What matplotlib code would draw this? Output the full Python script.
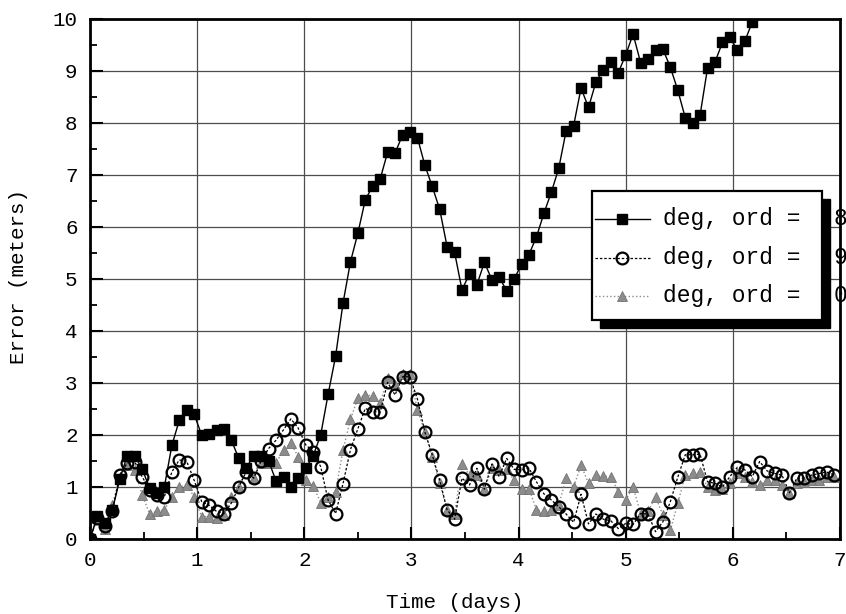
import matplotlib
matplotlib.use("Agg")
import matplotlib.pyplot as plt
from matplotlib.patches import Rectangle
from matplotlib.lines import Line2D

# ---------------- data ----------------
time_days = [0.0, 0.069, 0.139, 0.208, 0.278, 0.347, 0.417, 0.486, 0.556, 0.625,
             0.694, 0.764, 0.833, 0.903, 0.972, 1.042, 1.111, 1.181, 1.25, 1.319,
             1.389, 1.458, 1.528, 1.597, 1.667, 1.736, 1.806, 1.875, 1.944, 2.014,
             2.083, 2.153, 2.222, 2.292, 2.361, 2.431, 2.5, 2.569, 2.639, 2.708,
             2.778, 2.847, 2.917, 2.986, 3.056, 3.125, 3.194, 3.264, 3.333, 3.403,
             3.472, 3.542, 3.611, 3.681, 3.75, 3.819, 3.889, 3.958, 4.028, 4.097,
             4.167, 4.236, 4.306, 4.375, 4.444, 4.514, 4.583, 4.653, 4.722, 4.792,
             4.861, 4.931, 5.0, 5.069, 5.139, 5.208, 5.278, 5.347, 5.417, 5.486,
             5.556, 5.625, 5.694, 5.764, 5.833, 5.903, 5.972, 6.042, 6.111, 6.181,
             6.25, 6.319, 6.389, 6.458, 6.528, 6.597, 6.667, 6.736, 6.806, 6.875,
             6.944]

err_ord8 = [0.0, 0.45, 0.3, 0.55, 1.15, 1.6, 1.6, 1.35, 0.98, 0.88,
            1.0, 1.8, 2.28, 2.48, 2.4, 2.0, 2.02, 2.1, 2.12, 1.9,
            1.55, 1.37, 1.6, 1.6, 1.5, 1.12, 1.2, 1.0, 1.17, 1.36,
            1.6, 2.0, 2.78, 3.51, 4.53, 5.33, 5.88, 6.52, 6.79, 6.92,
            7.44, 7.42, 7.77, 7.83, 7.72, 7.19, 6.78, 6.34, 5.62, 5.51,
            4.79, 5.10, 4.89, 5.32, 4.99, 5.04, 4.77, 5.0, 5.28, 5.47,
            5.81, 6.26, 6.67, 7.13, 7.85, 7.95, 8.67, 8.30, 8.79, 9.02,
            9.17, 8.97, 9.31, 9.71, 9.16, 9.24, 9.40, 9.42, 9.07, 8.63,
            8.1, 8.0, 8.15, 9.06, 9.17, 9.55, 9.65, 9.4, 9.57, 9.94]

err_ord9 = [0.0, 0.4, 0.25, 0.53, 1.23, 1.46, 1.49, 1.2, 0.95, 0.85,
            0.81, 1.29, 1.52, 1.49, 1.13, 0.72, 0.65, 0.53, 0.49, 0.69,
            1.0, 1.29, 1.17, 1.5, 1.74, 1.9, 2.1, 2.31, 2.13, 1.81,
            1.68, 1.39, 0.75, 0.49, 1.06, 1.72, 2.12, 2.51, 2.45, 2.44,
            3.01, 2.77, 3.12, 3.12, 2.69, 2.06, 1.62, 1.13, 0.56, 0.38,
            1.17, 1.04, 1.36, 0.96, 1.44, 1.2, 1.55, 1.34, 1.33, 1.36,
            1.1, 0.87, 0.75, 0.62, 0.48, 0.32, 0.86, 0.29, 0.48, 0.38,
            0.35, 0.2, 0.3, 0.28, 0.49, 0.48, 0.14, 0.33, 0.72, 1.19,
            1.62, 1.62, 1.63, 1.1, 1.07, 1.0, 1.2, 1.38, 1.33, 1.2,
            1.49, 1.31, 1.26, 1.23, 0.89, 1.17, 1.17, 1.23, 1.26, 1.29,
            1.23]

err_ord0 = [0.0, 0.4, 0.2, 0.65, 1.2, 1.42, 1.33, 0.85, 0.49, 0.53,
            0.56, 0.81, 1.0, 1.04, 0.81, 0.43, 0.43, 0.4, 0.46, 0.81,
            1.0, 1.36, 1.17, 1.46, 1.46, 1.46, 1.71, 1.84, 1.58, 1.13,
            1.02, 0.7, 0.8, 0.91, 1.71, 2.3, 2.71, 2.77, 2.75, 2.61,
            3.09, 2.96, 3.17, 3.17, 2.48, 2.06, 1.58, 1.07, 0.56, 0.48,
            1.44, 1.23, 1.23, 0.96, 1.36, 1.33, 1.34, 1.13, 0.97, 0.97,
            0.56, 0.53, 0.55, 0.65, 1.17, 1.0, 1.42, 1.07, 1.23, 1.21,
            1.2, 0.91, 0.75, 1.0, 0.49, 0.53, 0.81, 0.46, 0.17, 0.69,
            1.23, 1.26, 1.29, 1.0, 0.94, 0.97, 1.07, 1.26, 1.2, 1.1,
            1.04, 1.13, 1.13, 1.04, 0.88, 1.07, 1.1, 1.13, 1.13, 1.2,
            1.2]

legend_labels = ["deg, ord =", "deg, ord =", "deg, ord ="]
legend_suffix = ["8", "9", "0"]
x_ticks = [0, 1, 2, 3, 4, 5, 6, 7]
y_ticks = [0, 1, 2, 3, 4, 5, 6, 7, 8, 9, 10]
x_label = "Time (days)"
y_label = "Error (meters)"

# ---------------- figure ----------------
FONT = "Liberation Mono"
plt.rcParams["font.family"] = [FONT, "DejaVu Sans Mono"]

W, H = 846, 614
fig = plt.figure(figsize=(W / 100, H / 100), dpi=100)
L, R, T, B = 90, 840, 19, 539
ax = fig.add_axes([L / W, 1 - B / H, (R - L) / W, (B - T) / H])

tri_color = "0.55"
ax.plot(time_days[:len(err_ord0)], err_ord0, linestyle=":", color=tri_color,
        linewidth=1.0, marker="^", markersize=7, markerfacecolor=tri_color,
        markeredgecolor="0.45", markeredgewidth=0.6, zorder=3)
ax.plot(time_days[:len(err_ord9)], err_ord9, linestyle=(0, (2, 1.5)), color="black",
        linewidth=0.9, marker="o", markersize=8.5, markerfacecolor="none",
        markeredgecolor="black", markeredgewidth=1.6, zorder=4)
ax.plot(time_days[:len(err_ord8)], err_ord8, linestyle="-", color="black",
        linewidth=1.0, marker="s", markersize=7.2, markerfacecolor="black",
        markeredgecolor="black", zorder=5)

ax.set_xlim(0, 7)
ax.set_ylim(0, 10)
ax.set_xticks(x_ticks)
ax.set_xticklabels([str(v) for v in x_ticks])
ax.set_yticks(y_ticks)
ax.set_yticklabels([str(v) for v in y_ticks])
ax.set_xticks([v + 0.5 for v in x_ticks[:-1]], minor=True)
ax.set_yticks([v + 0.5 for v in y_ticks[:-1]], minor=True)
ax.tick_params(which="major", direction="in", length=9, width=1.5,
               labelsize=15, pad=9, top=False, right=False)
ax.tick_params(which="minor", direction="in", length=5, width=1.3,
               top=False, right=False)
ax.grid(True, which="major", color="0.3", linewidth=0.9, linestyle="-")
ax.set_axisbelow(True)
for s in ax.spines.values():
    s.set_linewidth(2.0)
    s.set_color("black")

fig.text(455 / W, 1 - 603 / H, x_label, fontsize=15, ha="center", va="center")
fig.text(18 / W, 1 - 276 / H, y_label, fontsize=15, ha="center", va="center",
         rotation=90)

# ---------------- legend (drawn by hand, with drop shadow) ----------------
def axx(px):
    return (px - L) / (R - L)

def axy(py):
    return (B - py) / (B - T)

bx0, bx1, by0, by1 = 592, 822, 191, 320
sh = 8
ax.add_patch(Rectangle((axx(bx0 + sh), axy(by1 + sh)), axx(bx1 + sh) - axx(bx0 + sh),
                       axy(by0 + sh) - axy(by1 + sh), transform=ax.transAxes,
                       facecolor="black", edgecolor="black", zorder=10, clip_on=False))
ax.add_patch(Rectangle((axx(bx0), axy(by1)), axx(bx1) - axx(bx0),
                       axy(by0) - axy(by1), transform=ax.transAxes,
                       facecolor="white", edgecolor="black", linewidth=1.6,
                       zorder=11, clip_on=False))

rows = [219, 258, 296]
styles = [
    dict(linestyle="-", color="black", linewidth=1.0, marker="s", markersize=7.2,
         markerfacecolor="black", markeredgecolor="black"),
    dict(linestyle=(0, (2, 1.5)), color="black", linewidth=0.9, marker="o",
         markersize=8.5, markerfacecolor="none", markeredgecolor="black",
         markeredgewidth=1.6),
    dict(linestyle=":", color=tri_color, linewidth=1.0, marker="^", markersize=7,
         markerfacecolor=tri_color, markeredgecolor="0.45", markeredgewidth=0.6),
]
for ry, st, lab, suf in zip(rows, styles, legend_labels, legend_suffix):
    ln_style = {k: v for k, v in st.items() if not k.startswith("marker")}
    ax.add_line(Line2D([axx(595), axx(650)], [axy(ry), axy(ry)], transform=ax.transAxes,
                       zorder=12, clip_on=False, **ln_style))
    mk_style = {k: v for k, v in st.items() if k != "linestyle"}
    ax.add_line(Line2D([axx(622)], [axy(ry)], transform=ax.transAxes, linestyle="none",
                       zorder=13, clip_on=False, **mk_style))
    ax.text(axx(663), axy(ry), lab, transform=ax.transAxes, fontsize=16.5,
            ha="left", va="center", zorder=13)
    ax.text(axx(840), axy(ry), suf, transform=ax.transAxes, fontsize=16.5,
            ha="center", va="center", zorder=13, clip_on=False)

fig.savefig("out.png", dpi=100)
